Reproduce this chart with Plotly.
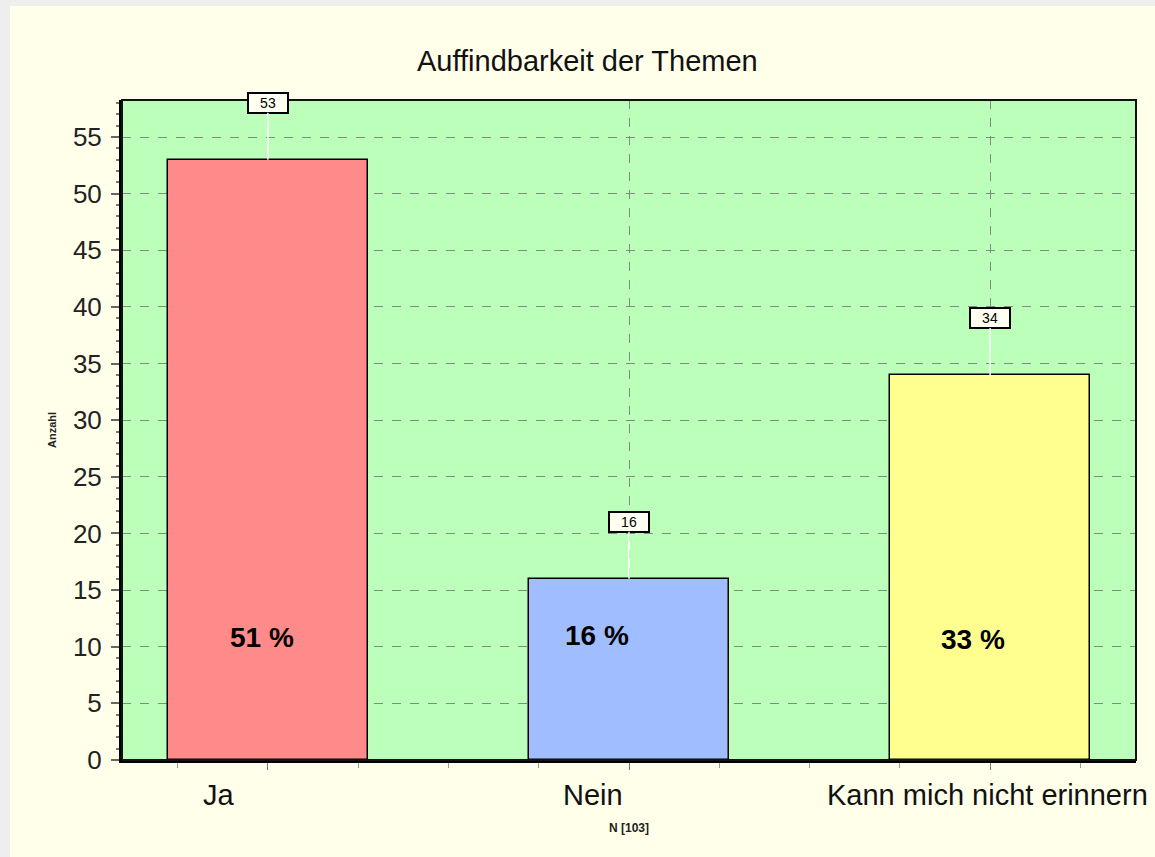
import plotly.graph_objects as go

# ---- data ----
categories = ["Ja", "Nein", "Kann mich nicht erinnern"]
counts = [53, 16, 34]
percents = [51, 16, 33]
bar_colors = ["#FF8A8A", "#A0BEFF", "#FFFF90"]
title_text = "Auffindbarkeit der Themen"
y_title = "Anzahl"
n_text = "N [103]"
y_tickvals = [0, 5, 10, 15, 20, 25, 30, 35, 40, 45, 50, 55]

# layout helpers (pixel offsets, not data)
label_xshift = [-49, -36, -3]
pct_dx = [-0.017, -0.09, -0.047]
pct_y = [10.8, 10.95, 10.6]

xpos = list(range(len(categories)))

fig = go.Figure()
fig.add_trace(go.Bar(
    x=xpos, y=counts, width=0.554,
    marker=dict(color=bar_colors, line=dict(color="black", width=1.5)),
    hoverinfo="skip", showlegend=False,
))

FONT = "Liberation Sans, Arial, sans-serif"
annotations = []
for i, (c, v, p) in enumerate(zip(categories, counts, percents)):
    # value box with white connector
    annotations.append(dict(
        x=i, y=v, xref="x", yref="y", text=str(v),
        showarrow=True, arrowhead=0, arrowcolor="white", arrowwidth=1.5,
        ax=0, ay=-57, standoff=0,
        bgcolor="#FFFFF2", bordercolor="black", borderwidth=2, borderpad=1,
        width=36, height=16,
        font=dict(family=FONT, size=14, color="black"),
    ))
    # percent label
    annotations.append(dict(
        x=i + pct_dx[i], y=pct_y[i], xref="x", yref="y", text=f"<b>{p} %</b>",
        showarrow=False, font=dict(family=FONT, size=28, color="black"),
    ))
    # category label
    annotations.append(dict(
        x=i, y=-0.053, xref="x", yref="paper", text=c, xshift=label_xshift[i],
        showarrow=False, yanchor="middle", xanchor="center",
        font=dict(family=FONT, size=29, color="#111111"),
    ))

annotations.append(dict(
    x=0.5, y=(760 - 828) / 660, xref="paper", yref="paper", text=f"<b>{n_text}</b>",
    showarrow=False, xanchor="center", yanchor="middle",
    font=dict(family=FONT, size=12, color="#222222"),
))
annotations.append(dict(
    x=(52 - 122) / 1014, y=(760 - 430) / 660, xref="paper", yref="paper",
    text=f"<b>{y_title}</b>", textangle=-90, showarrow=False,
    xanchor="center", yanchor="middle",
    font=dict(family=FONT, size=11, color="#222222"),
))
annotations.append(dict(
    x=(587 - 122) / 1014, y=(760 - 61) / 660, xref="paper", yref="paper",
    text=title_text, showarrow=False, xanchor="center", yanchor="middle",
    font=dict(family=FONT, size=29, color="#111111"),
))

shapes = [
    # grey page strips
    dict(type="rect", xref="paper", yref="paper", x0=-0.2, x1=1.1,
         y0=(760 - 6) / 660, y1=1.3, fillcolor="#EEEEEE", line_width=0, layer="below"),
    dict(type="rect", xref="paper", yref="paper", x0=-0.2, x1=(10 - 122) / 1014,
         y0=-0.3, y1=1.3, fillcolor="#EEEEEE", line_width=0, layer="below"),
    # plot border
    dict(type="rect", xref="paper", yref="paper", x0=0, x1=1, y0=0, y1=1,
         line=dict(color="#111111", width=2), layer="above"),
]

fig.update_layout(
    width=1155, height=857,
    margin=dict(l=122, r=19, t=100, b=97),
    paper_bgcolor="#FFFFEA",
    plot_bgcolor="#BBFFBB",
    annotations=annotations,
    shapes=shapes,
    bargap=0,
    xaxis=dict(
        range=[-0.404, 2.404], tickvals=xpos, ticktext=[""] * len(xpos),
        showgrid=True, gridcolor="#7E8E7E", griddash="dash", gridwidth=1.2,
        ticks="outside", ticklen=7, tickcolor="#777777", tickwidth=1.2,
        minor=dict(dtick=0.25, tick0=0, ticks="outside", ticklen=5,
                   tickcolor="#999999", showgrid=False),
        showline=True, linecolor="black", linewidth=3, zeroline=False,
        fixedrange=True,
    ),
    yaxis=dict(
        range=[0, 58.27], tickvals=y_tickvals,
        showgrid=True, gridcolor="#7E8E7E", griddash="dash", gridwidth=1.2,
        ticks="outside", ticklen=8, tickcolor="#666666", tickwidth=1.5,
        minor=dict(dtick=1, ticks="outside", ticklen=3, tickcolor="#777777",
                   showgrid=False),
        showline=True, linecolor="black", linewidth=3, zeroline=False,
        tickfont=dict(family=FONT, size=26, color="#222222"),
        ticklabelstandoff=4,
        fixedrange=True,
    ),
)

fig.write_html(
    "out.html",
    config={"displayModeBar": False},
    post_script="document.body.style.margin='0';document.body.style.overflow='hidden';",
)
